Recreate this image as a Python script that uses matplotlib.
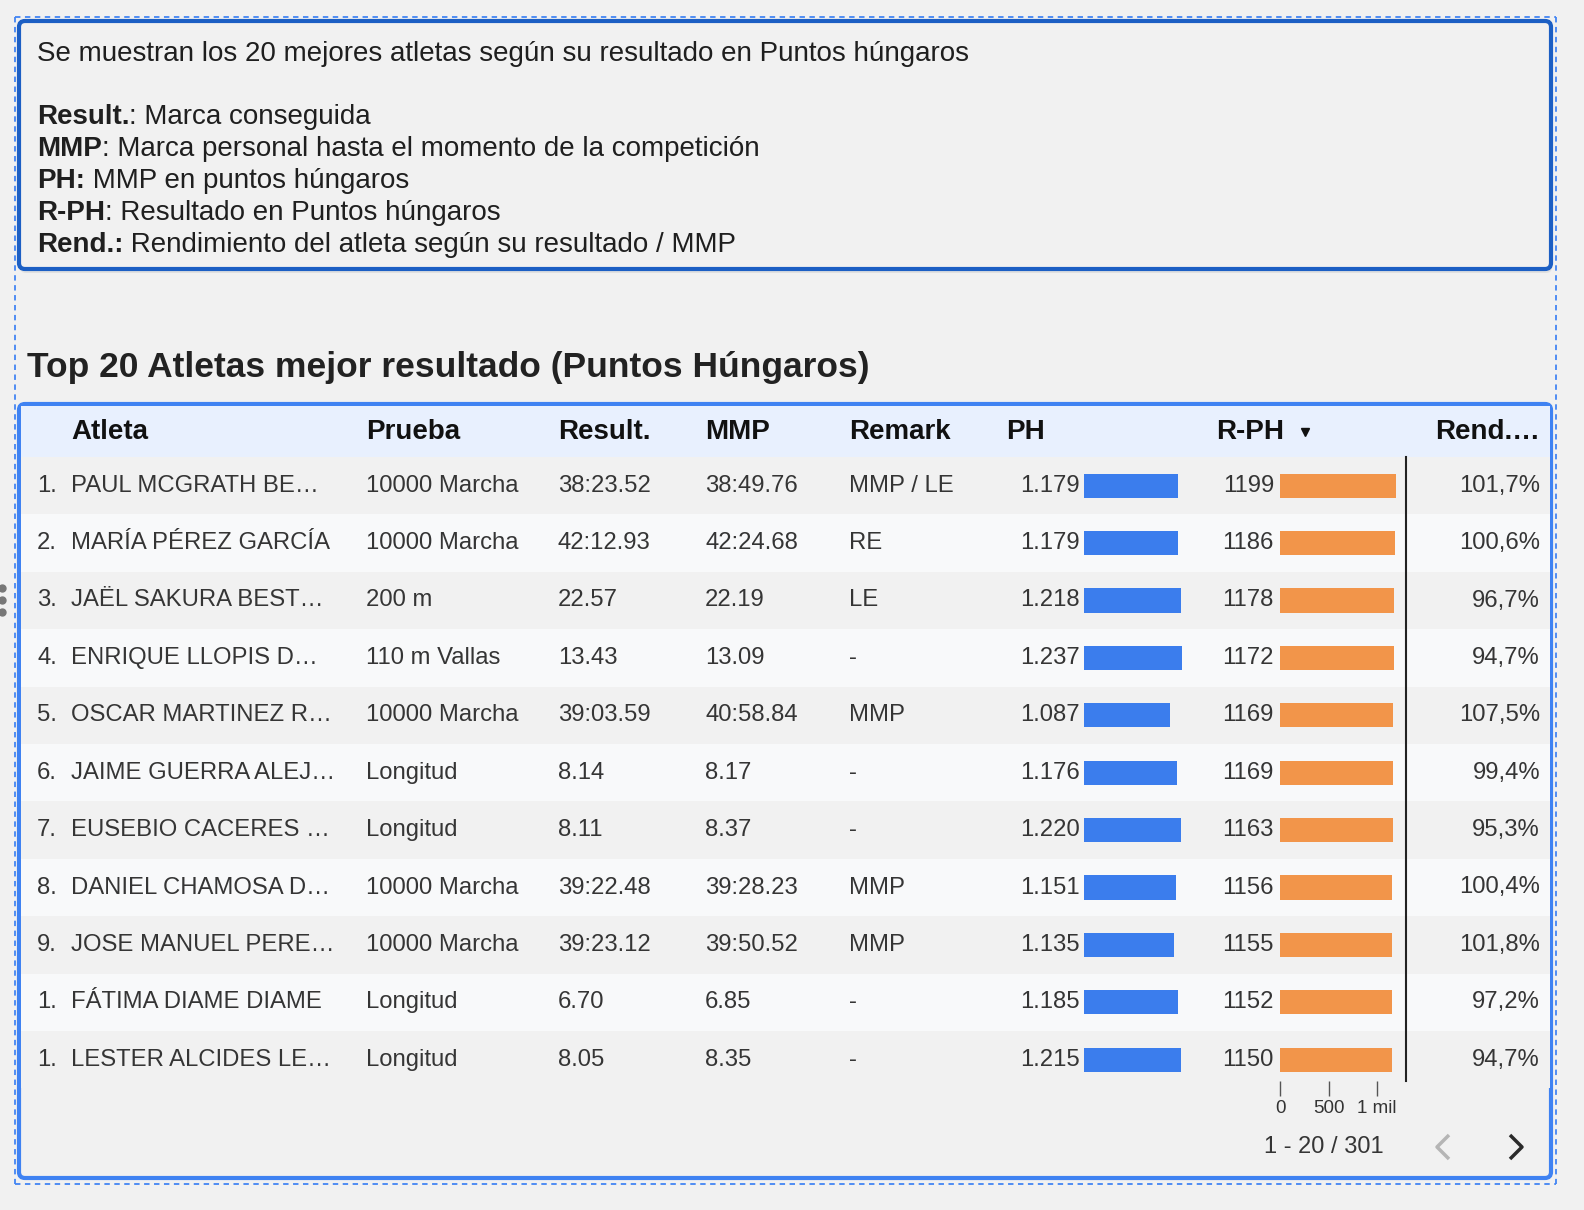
import matplotlib
matplotlib.use("Agg")
import matplotlib.pyplot as plt
from matplotlib.patches import FancyBboxPatch, Rectangle

plt.rcParams['font.family'] = ['Liberation Sans', 'DejaVu Sans']

# ---------------- data ----------------
ranks = ["1.", "2.", "3.", "4.", "5.", "6.", "7.", "8.", "9.", "1.", "1."]
atletas = ["PAUL MCGRATH BE…", "MARÍA PÉREZ GARCÍA", "JAËL SAKURA BEST…",
           "ENRIQUE LLOPIS D…", "OSCAR MARTINEZ R…", "JAIME GUERRA ALEJ…",
           "EUSEBIO CACERES …", "DANIEL CHAMOSA D…", "JOSE MANUEL PERE…",
           "FÁTIMA DIAME DIAME", "LESTER ALCIDES LE…"]
pruebas = ["10000 Marcha", "10000 Marcha", "200 m", "110 m Vallas", "10000 Marcha",
           "Longitud", "Longitud", "10000 Marcha", "10000 Marcha", "Longitud", "Longitud"]
results = ["38:23.52", "42:12.93", "22.57", "13.43", "39:03.59", "8.14", "8.11",
           "39:22.48", "39:23.12", "6.70", "8.05"]
mmps = ["38:49.76", "42:24.68", "22.19", "13.09", "40:58.84", "8.17", "8.37",
        "39:28.23", "39:50.52", "6.85", "8.35"]
remarks = ["MMP / LE", "RE", "LE", "-", "MMP", "-", "-", "MMP", "MMP", "-", "-"]
ph = [1179, 1179, 1218, 1237, 1087, 1176, 1220, 1151, 1135, 1185, 1215]
rph = [1199, 1186, 1178, 1172, 1169, 1169, 1163, 1156, 1155, 1152, 1150]
rend = [101.7, 100.6, 96.7, 94.7, 107.5, 99.4, 95.3, 100.4, 101.8, 97.2, 94.7]
headers = ["Atleta", "Prueba", "Result.", "MMP", "Remark", "PH", "R-PH", "Rend.…"]
rph_ticks = [0, 500, 1000]
rph_ticklabels = ["0", "500", "1 mil"]
pagination = "1 - 20 / 301"

intro = "Se muestran los 20 mejores atletas según su resultado en Puntos húngaros"
legend_terms = [("Result.", ": Marca conseguida"),
                ("MMP", ": Marca personal hasta el momento de la competición"),
                ("PH:", " MMP en puntos húngaros"),
                ("R-PH", ": Resultado en Puntos húngaros"),
                ("Rend.:", " Rendimiento del atleta según su resultado / MMP")]
title = "Top 20 Atletas mejor resultado (Puntos Húngaros)"

# ---------------- layout ----------------
W, H = 1584, 1210
BG = '#f1f1f1'
fig = plt.figure(figsize=(W / 100, H / 100), dpi=100, facecolor=BG)
bg = fig.add_axes([0, 0, 1, 1])
bg.set_xlim(0, W)
bg.set_ylim(H, 0)
bg.axis('off')
bg.set_facecolor(BG)

def frac(x0, y0, x1, y1):
    return [x0 / W, 1 - y1 / H, (x1 - x0) / W, (y1 - y0) / H]

TXT = '#353535'
n = len(atletas)
row_top = 457
pitch = 57.4
row_bot = row_top + n * pitch
axis_bot = 1081

# outer dashed selection frame
dash = dict(color='#4285f4', lw=1.3, linestyle=(0, (3, 2.5)))
bg.plot([15, 1556], [17, 17], **dash)
bg.plot([15, 15], [17, 1184], **dash)
bg.plot([1556, 1556], [17, 1184], **dash)
bg.plot([15, 1556], [1184, 1184], **dash)

# top info box
bg.add_patch(FancyBboxPatch((20, 24), 1532, 249, boxstyle="round,pad=0,rounding_size=6",
                            fc='#d6d6d6', ec='none', alpha=0.6, zorder=1))
bg.add_patch(FancyBboxPatch((19, 21), 1532, 248, boxstyle="round,pad=0,rounding_size=6",
                            fc=BG, ec='#1c5fc4', lw=3, zorder=2))

fs_info = 20
bg.text(37, 54, intro, fontsize=fs_info, color='#1f1f1f', va='center', zorder=3)
fig.canvas.draw()
inv = bg.transData.inverted()
for i, (b, r) in enumerate(legend_terms):
    y = 117 + i * 32
    tb = bg.text(37, y, b, fontsize=fs_info, fontweight='bold', color='#1f1f1f',
                 va='center', zorder=3)
    fig.canvas.draw()
    bb = tb.get_window_extent()
    xe = inv.transform((bb.x1, bb.y0))[0]
    bg.text(xe, y, r, fontsize=fs_info, color='#1f1f1f', va='center', zorder=3)

# title
bg.text(27, 368, title, fontsize=25.5, fontweight='bold', color='#222222', va='center')

# table box
bg.add_patch(FancyBboxPatch((19, 404), 1532, 774, boxstyle="round,pad=0,rounding_size=6",
                            fc=BG, ec='#3f82f2', lw=3, zorder=2))
bg.add_patch(Rectangle((20.5, 406), 1529, row_top - 406, fc='#e8f0fe', ec='none', zorder=2))
for i in range(n):
    c = '#f1f1f1' if i % 2 == 0 else '#f8f9fa'
    bg.add_patch(Rectangle((20.5, row_top + i * pitch), 1529, pitch, fc=c, ec='none', zorder=2))

# header
hx = [71, 366, 558, 705, 849, 1006, 1216]
fs_h = 20
for x, h in zip(hx, headers[:-1]):
    bg.text(x, 432, h, fontsize=fs_h, fontweight='bold', color='#111111', va='center', zorder=4)
bg.text(1540, 432, headers[-1], fontsize=fs_h, fontweight='bold', color='#111111',
        va='center', ha='right', zorder=4)
bg.plot([1305], [432], marker='v', color='#111111', markersize=6, zorder=4)

# rows text
fs = 17.2
for i in range(n):
    y = row_top + (i + 0.5) * pitch
    bg.text(37, y, ranks[i], fontsize=fs, color=TXT, va='center', zorder=4)
    bg.text(71, y, atletas[i], fontsize=fs, color=TXT, va='center', zorder=4)
    bg.text(366, y, pruebas[i], fontsize=fs, color=TXT, va='center', zorder=4)
    bg.text(558, y, results[i], fontsize=fs, color=TXT, va='center', zorder=4)
    bg.text(705, y, mmps[i], fontsize=fs, color=TXT, va='center', zorder=4)
    bg.text(849, y, remarks[i], fontsize=fs, color=TXT, va='center', zorder=4)
    bg.text(1080, y, f"{ph[i]:,}".replace(",", "."), fontsize=fs, color=TXT,
            va='center', ha='right', zorder=4)
    bg.text(1274, y, f"{rph[i]}", fontsize=fs, color=TXT, va='center', ha='right', zorder=4)
    bg.text(1540, y, f"{rend[i]:.1f}".replace(".", ",") + "%", fontsize=fs, color=TXT,
            va='center', ha='right', zorder=4)

# divider line
bg.plot([1406, 1406], [row_top, 1081], color='#222222', lw=1.5, zorder=4)

ylim_bottom = -0.5 + (axis_bot - row_top) / pitch

# PH bars
ax_ph = fig.add_axes(frac(1084, row_top, 1194, axis_bot))
ax_ph.set_xlim(0, 110 / 0.0795)
ax_ph.set_ylim(ylim_bottom, -0.5)
ax_ph.barh(range(n), ph, height=0.42, color='#3b7ded')
ax_ph.axis('off')

# R-PH bars
ax_r = fig.add_axes(frac(1280, row_top, 1400, axis_bot))
ax_r.set_xlim(0, 120 / 0.0970)
ax_r.set_ylim(ylim_bottom, -0.5)
ax_r.barh(range(n), rph, height=0.42, color='#f2954a')
ax_r.patch.set_alpha(0)
for s in ax_r.spines.values():
    s.set_visible(False)
ax_r.set_yticks([])
ax_r.set_xticks(rph_ticks)
ax_r.set_xticklabels(rph_ticklabels)
ax_r.tick_params(axis='x', length=11, width=1, color='#555555', labelsize=13.5,
                 labelcolor='#333333', pad=3)

# pagination
bg.text(1324, 1147, pagination, fontsize=17, color=TXT, va='center', ha='center', zorder=4)
bg.plot([1449, 1437, 1449], [1135, 1147, 1159], color='#b5b5b5', lw=2.5,
        solid_capstyle='butt', zorder=4)
bg.plot([1510, 1522, 1510], [1135, 1147, 1159], color='#2a2a2a', lw=2.5,
        solid_capstyle='butt', zorder=4)

# left drag handle dots
bg.plot([2, 2, 2], [588, 600, 612], 'o', color='#777777', markersize=5, zorder=4)

fig.savefig("out.png", dpi=100, facecolor=BG)
